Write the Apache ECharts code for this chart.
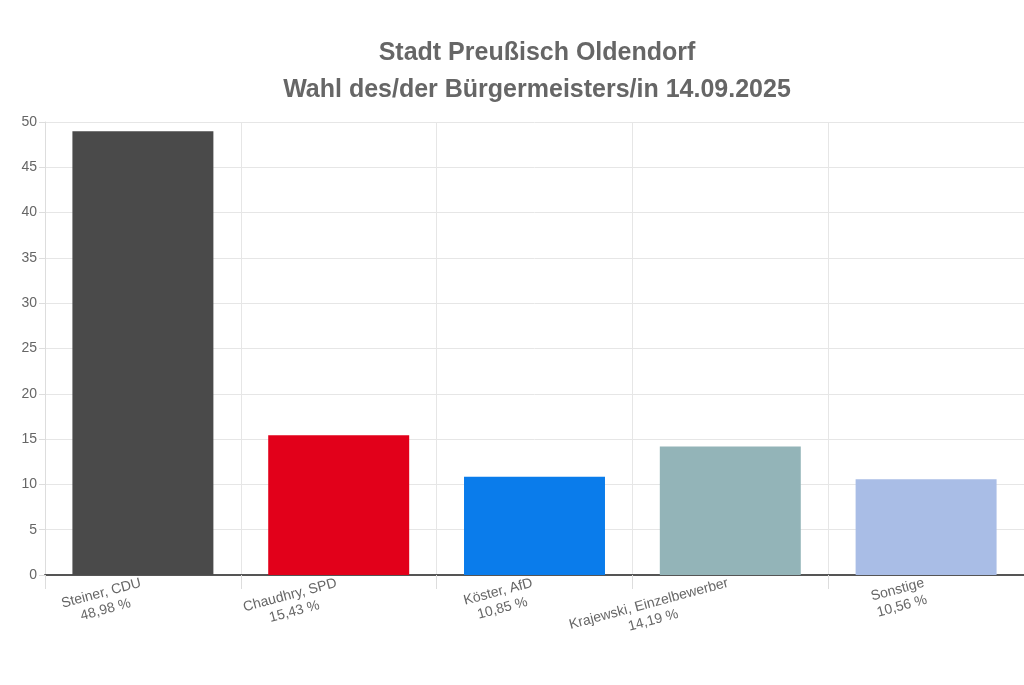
<!DOCTYPE html>
<html><head><meta charset="utf-8">
<script src="https://cdn.jsdelivr.net/npm/echarts@6/dist/echarts.min.js"></script>
<style>html,body{margin:0;padding:0;background:#fff}#c{width:1024px;height:685px}</style>
</head><body><div id="c"></div>
<script>
const categories = ["Steiner, CDU", "Chaudhry, SPD", "Köster, AfD", "Krajewski, Einzelbewerber", "Sonstige"];
const values = [48.98, 15.43, 10.85, 14.19, 10.56];
const colors = ["#4a4a4a", "#e2001a", "#0a7ceb", "#93b4b8", "#a9bde6"];
const yTicks = [0, 5, 10, 15, 20, 25, 30, 35, 40, 45, 50];

const chart = echarts.init(document.getElementById('c'));
chart.setOption({
  animation: false,
  title: {
    text: "Stadt Preußisch Oldendorf\nWahl des/der Bürgermeisters/in 14.09.2025",
    left: 532, top: 30, textAlign: 'center',
    textStyle: {fontFamily: 'Liberation Sans', fontSize: 25, fontWeight: 'bold', color: '#666', lineHeight: 37}
  },
  grid: {left: 45, width: 1025, top: 122, bottom: 110},
  xAxis: {
    type: 'category', data: categories,
    axisLine: {lineStyle: {color: '#555', width: 2}},
    axisTick: {show: true, length: 14, lineStyle: {color: '#ddd'}},
    splitLine: {show: true, lineStyle: {color: '#e6e6e6'}},
    axisLabel: {
      rotate: 15, interval: 0, margin: 16,
      fontFamily: 'Liberation Sans', fontSize: 14, color: '#666', lineHeight: 17,
      formatter: (v, i) => '{a|' + v + '}\n{a|' + values[i].toFixed(2).replace('.', ',') + ' %}',
      rich: {a: {align: 'center', fontFamily: 'Liberation Sans', fontSize: 14, color: '#666', lineHeight: 17}}
    }
  },
  yAxis: {
    type: 'value', min: 0, max: 50, interval: 5,
    axisLine: {show: true, lineStyle: {color: '#ddd'}},
    axisTick: {show: true, length: 6, lineStyle: {color: '#ddd'}},
    splitLine: {lineStyle: {color: '#e6e6e6'}},
    axisLabel: {fontFamily: 'Liberation Sans', fontSize: 14, color: '#666', margin: 8,
      formatter: v => yTicks.includes(v) ? String(v) : ''}
  },
  series: [{
    type: 'bar', barWidth: '72%',
    data: values.map((v, i) => ({value: v, itemStyle: {color: colors[i]}}))
  }]
});
</script></body></html>
